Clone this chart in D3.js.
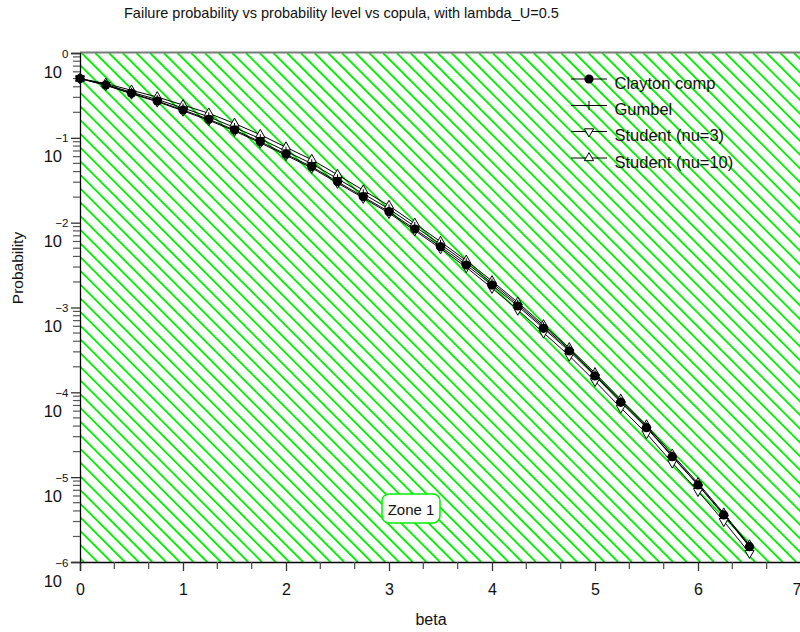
<!DOCTYPE html>
<html>
<head>
<meta charset="utf-8">
<script src="https://cdn.jsdelivr.net/npm/d3@7"></script>
<style>
  html, body { margin: 0; padding: 0; background: #fff; }
  svg { display: block; font-family: "Liberation Sans", Arial, sans-serif; }
</style>
</head>
<body>
<svg id="chart" width="800" height="632"></svg>
<script>
// ---------------- data ----------------
const title = "Failure probability vs probability level vs copula, with lambda_U=0.5";
const xLabel = "beta";
const yLabel = "Probability";
const zoneLabel = "Zone 1";

const beta = [0, 0.25, 0.5, 0.75, 1, 1.25, 1.5, 1.75, 2, 2.25, 2.5, 2.75, 3, 3.25, 3.5,
              3.75, 4, 4.25, 4.5, 4.75, 5, 5.25, 5.5, 5.75, 6, 6.25, 6.5];

const claytonComp = [0.5, 0.4196, 0.3348, 0.2717, 0.2129, 0.1654, 0.1237, 0.0900, 0.0641,
  0.0457, 0.0304, 0.0202, 0.01346, 0.00842, 0.00521, 0.00317, 0.00184, 0.001041,
  0.000568, 0.000307, 0.0001558, 7.63e-5, 3.83e-5, 1.742e-5, 8.08e-6, 3.58e-6, 1.514e-6];

const gumbel = [0.5, 0.4253, 0.3440, 0.2830, 0.2248, 0.1770, 0.1324, 0.0976, 0.0695,
  0.04958, 0.03298, 0.02191, 0.01452, 0.009036, 0.005561, 0.003365, 0.001943, 0.001093,
  0.0005932, 0.0003189, 0.000161, 7.84e-5, 3.914e-5, 1.771e-5, 8.19e-6, 3.619e-6, 1.526e-6];

const student3 = [0.5, 0.4162, 0.3303, 0.2666, 0.2083, 0.1610, 0.1204, 0.08735, 0.06205,
  0.04424, 0.02935, 0.0195, 0.01296, 0.008084, 0.004962, 0.002978, 0.001696, 0.000939,
  0.0005041, 0.0002695, 0.0001353, 6.573e-5, 3.272e-5, 1.480e-5, 6.848e-6, 3.026e-6, 1.276e-6];

const student10 = [0.5, 0.4371, 0.3632, 0.3029, 0.2439, 0.1947, 0.1476, 0.1088, 0.0775,
  0.05525, 0.03675, 0.0241, 0.01584, 0.00978, 0.005967, 0.003582, 0.002051, 0.001151,
  0.000621, 0.000333, 0.000169, 8.23e-5, 4.10e-5, 1.854e-5, 8.53e-6, 3.75e-6, 1.577e-6];

const seriesNames = ["Clayton comp", "Gumbel", "Student (nu=3)", "Student (nu=10)"];
const seriesMarkers = ["circle", "plus", "triangledown", "triangleup"];
const seriesValues = [claytonComp, gumbel, student3, student10];

const xTicks = [0, 1, 2, 3, 4, 5, 6, 7];
const yDecades = [0, -1, -2, -3, -4, -5, -6];

// ---------------- layout ----------------
const FONT = '"Liberation Sans", Arial, sans-serif';
const plot = { left: 80, right: 801, top: 53, bottom: 562 };
const svg = d3.select("#chart");

const x = d3.scaleLinear().domain([0, 7]).range([plot.left, plot.right]);
const y = d3.scaleLog().domain([1e-6, 1]).range([plot.bottom, plot.top]);

// hatch background (decorative)
svg.append("defs").append("clipPath").attr("id", "plotclip")
  .append("rect").attr("x", plot.left + 1).attr("y", plot.top)
  .attr("width", 800 - plot.left - 1).attr("height", plot.bottom - plot.top);

const hatch = svg.append("g").attr("clip-path", "url(#plotclip)");
const hStep = 13.7, hOffset = 81.7, H = plot.bottom - plot.top;
const hatchIdx = d3.range(-42, 56);
hatch.selectAll("line").data(hatchIdx).join("line")
  .attr("x1", k => hOffset + k * hStep)
  .attr("y1", plot.top)
  .attr("x2", k => hOffset + k * hStep + H)
  .attr("y2", plot.bottom)
  .attr("stroke", "#00f000")
  .attr("stroke-width", 1.8);

// top frame (grey)
svg.append("line").attr("x1", plot.left).attr("x2", 800)
  .attr("y1", plot.top - 0.5).attr("y2", plot.top - 0.5)
  .attr("stroke", "#7a7a7a").attr("stroke-width", 2);

// ---------------- axes ----------------
// x axis
const xAxis = d3.axisBottom(x).tickValues(xTicks).tickSize(9).tickPadding(13).tickFormat(d3.format("d"));
const gx = svg.append("g").attr("transform", `translate(0,${plot.bottom})`).call(xAxis);
gx.select(".domain").attr("stroke", "#000").attr("stroke-width", 1.3);
gx.selectAll(".tick line").attr("stroke", "#333").attr("stroke-width", 1.3);
gx.selectAll(".tick text").attr("font-family", FONT).attr("font-size", 16).attr("fill", "#111")
  .attr("text-anchor", d => d === 7 ? "end" : "middle")
  .attr("dx", d => d === 7 ? 0 : null);
// minor x ticks
const xMinor = [];
xTicks.slice(0, -1).forEach(t => { xMinor.push(t + 1 / 3, t + 2 / 3); });
svg.append("g").selectAll("line").data(xMinor).join("line")
  .attr("x1", d => x(d)).attr("x2", d => x(d))
  .attr("y1", plot.bottom).attr("y2", plot.bottom + 7)
  .attr("stroke", "#555").attr("stroke-width", 1.3);

// y axis
const yAxis = d3.axisLeft(y).tickValues(yDecades.map(e => Math.pow(10, e))).tickSize(9).tickFormat("");
const gy = svg.append("g").attr("transform", `translate(${plot.left},0)`).call(yAxis);
gy.select(".domain").attr("stroke", "#000").attr("stroke-width", 1.3);
gy.selectAll(".tick line").attr("stroke", "#333").attr("stroke-width", 1.3);
// minor y ticks
const yMinor = [];
yDecades.slice(1).forEach(e => { for (let m = 2; m <= 9; m++) yMinor.push(m * Math.pow(10, e)); });
svg.append("g").selectAll("line").data(yMinor).join("line")
  .attr("x1", plot.left - 7).attr("x2", plot.left)
  .attr("y1", d => y(d)).attr("y2", d => y(d))
  .attr("stroke", "#555").attr("stroke-width", 1.2);
// y tick labels 10^e
const yl = svg.append("g").attr("font-family", FONT).attr("fill", "#111");
yl.selectAll("text.base").data(yDecades).join("text").attr("class", "base")
  .attr("x", 62).attr("y", e => y(Math.pow(10, e)) + 24.5)
  .attr("text-anchor", "end").attr("font-size", 16.5).text("10");
yl.selectAll("text.exp").data(yDecades).join("text").attr("class", "exp")
  .attr("x", 68.5).attr("y", e => y(Math.pow(10, e)) + 4.5)
  .attr("text-anchor", "end").attr("font-size", 11.5)
  .text(e => e === 0 ? "0" : "\u2212" + Math.abs(e));

// ---------------- titles ----------------
svg.append("text").attr("x", 124).attr("y", 17.5).attr("font-family", FONT)
  .attr("font-size", 14.5).attr("fill", "#111").text(title);
svg.append("text").attr("x", 431).attr("y", 625).attr("text-anchor", "middle")
  .attr("font-family", FONT).attr("font-size", 16).attr("fill", "#111").text(xLabel);
svg.append("text").attr("transform", "translate(23,268) rotate(-90)").attr("text-anchor", "middle")
  .attr("font-family", FONT).attr("font-size", 15.5).attr("fill", "#111").text(yLabel);

// ---------------- markers ----------------
function drawMarker(g, type, cx, cy) {
  if (type === "circle") {
    g.append("circle").attr("cx", cx).attr("cy", cy).attr("r", 4.6).attr("fill", "#000");
  } else if (type === "plus") {
    g.append("path").attr("d", `M${cx - 4.5},${cy}H${cx + 4.5}M${cx},${cy - 4.5}V${cy + 4.5}`)
      .attr("stroke", "#000").attr("stroke-width", 1).attr("fill", "none");
  } else if (type === "triangleup") {
    g.append("path").attr("d", `M${cx},${cy - 5.4}L${cx + 4.6},${cy + 2.7}L${cx - 4.6},${cy + 2.7}Z`)
      .attr("stroke", "#000").attr("stroke-width", 1).attr("fill", "#fff");
  } else if (type === "triangledown") {
    g.append("path").attr("d", `M${cx},${cy + 5.4}L${cx + 4.6},${cy - 2.7}L${cx - 4.6},${cy - 2.7}Z`)
      .attr("stroke", "#000").attr("stroke-width", 1).attr("fill", "#fff");
  }
}

// ---------------- series ----------------
const line = d3.line().x(d => x(d[0])).y(d => y(d[1]));
const plotG = svg.append("g");
seriesValues.forEach((vals) => {
  const pts = beta.map((b, i) => [b, vals[i]]);
  plotG.append("path").datum(pts).attr("d", line)
    .attr("fill", "none").attr("stroke", "#000").attr("stroke-width", 1);
});
const order = [3, 2, 1, 0];
order.forEach(si => {
  const mg = plotG.append("g");
  beta.forEach((b, i) => drawMarker(mg, seriesMarkers[si], x(b), y(seriesValues[si][i])));
});

// ---------------- legend ----------------
const legY = [79, 105.5, 131.5, 158];
const lg = svg.append("g");
seriesNames.forEach((name, i) => {
  lg.append("line").attr("x1", 571).attr("x2", 607).attr("y1", legY[i]).attr("y2", legY[i])
    .attr("stroke", "#000").attr("stroke-width", 1);
  drawMarker(lg, seriesMarkers[i], 589, legY[i]);
  lg.append("text").attr("x", 614.5).attr("y", legY[i] + 9.5).attr("font-family", FONT)
    .attr("font-size", 16.5).attr("fill", "#111").text(name);
});

// ---------------- zone label ----------------
const zg = svg.append("g");
zg.append("rect").attr("x", 382).attr("y", 494).attr("width", 58).attr("height", 29)
  .attr("rx", 7).attr("fill", "#fff").attr("stroke", "#00f000").attr("stroke-width", 1.5);
zg.append("text").attr("x", 411).attr("y", 515).attr("text-anchor", "middle")
  .attr("font-family", FONT).attr("font-size", 15).attr("fill", "#111").text(zoneLabel);
</script>
</body>
</html>
